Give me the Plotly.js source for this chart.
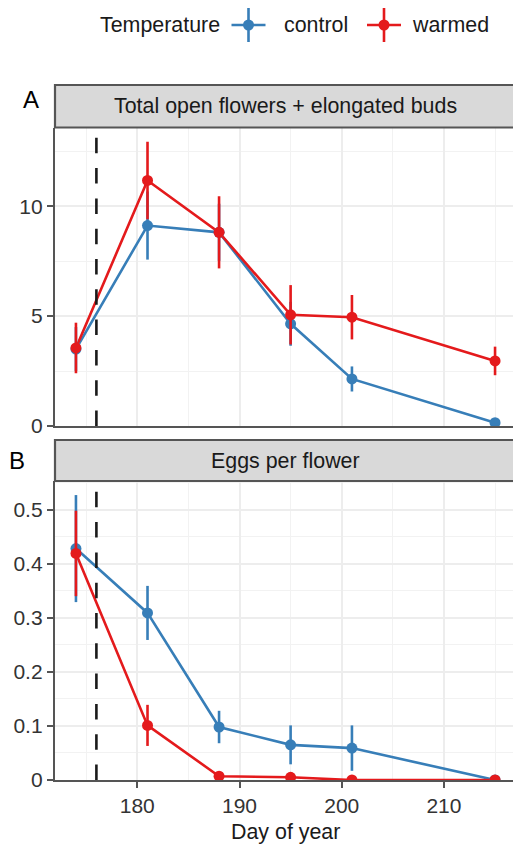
<!DOCTYPE html>
<html>
<head>
<meta charset="utf-8">
<script src="https://cdn.plot.ly/plotly-3.0.1.min.js"></script>
<style>
html,body{margin:0;padding:0;overflow:hidden;background:#fff;}
#chart{width:516px;height:845px;}
</style>
</head>
<body>
<div id="chart"></div>
<script>
// ---- data ----
const days = [174, 181, 188, 195, 201, 215];
const flowersControl = [3.5, 9.12, 8.81, 4.65, 2.14, 0.15];
const flowersControlErr = [1.0, 1.55, 1.3, 1.0, 0.57, 0.1];
const flowersWarmed = [3.55, 11.17, 8.81, 5.06, 4.95, 2.96];
const flowersWarmedErr = [1.15, 1.76, 1.64, 1.35, 1.01, 0.65];
const eggsControl = [0.428, 0.309, 0.098, 0.065, 0.059, 0.0];
const eggsControlErr = [0.099, 0.05, 0.03, 0.036, 0.042, 0.0];
const eggsWarmed = [0.419, 0.101, 0.007, 0.005, 0.0, 0.0];
const eggsWarmedErr = [0.079, 0.038, 0.003, 0.003, 0.0, 0.0];
const groups = ["control", "warmed"];
const panelTitles = ["Total open flowers + elongated buds", "Eggs per flower"];
const panelLetters = ["A", "B"];
const warmingStartDay = 176;
const xTitle = "Day of year";
const legendTitle = "Temperature";

const colors = {control: "#377EB8", warmed: "#E41A1C"};
const W = 516, H = 845, L = 55, PW = W - L;
const px = v => (v - L) / PW;
const py = v => 1 - v / H;

function lineTrace(x, y, g, xa, ya) {
  return {x: x, y: y, type: "scatter", mode: "lines", xaxis: xa, yaxis: ya,
    line: {color: colors[g], width: 2.6}, showlegend: false, hoverinfo: "skip"};
}
function ptTrace(x, y, e, g, xa, ya) {
  return {x: x, y: y, type: "scatter", mode: "markers", xaxis: xa, yaxis: ya,
    marker: {color: colors[g], size: 11},
    error_y: {type: "data", array: e, symmetric: true, color: colors[g], thickness: 2.6, width: 0},
    showlegend: false, name: g};
}

const data = [
  lineTrace(days, flowersControl, "control", "x", "y"),
  lineTrace(days, flowersWarmed, "warmed", "x", "y"),
  ptTrace(days, flowersControl, flowersControlErr, "control", "x", "y"),
  ptTrace(days, flowersWarmed, flowersWarmedErr, "warmed", "x", "y"),
  lineTrace(days, eggsControl, "control", "x2", "y2"),
  lineTrace(days, eggsWarmed, "warmed", "x2", "y2"),
  ptTrace(days, eggsControl, eggsControlErr, "control", "x2", "y2"),
  ptTrace(days, eggsWarmed, eggsWarmedErr, "warmed", "x2", "y2")
];

const axisLine = "#555555";
const gridMajor = "#EDEDED";
const gridMinor = "#F2F2F2";
const tickFont = {size: 21, color: "#333333"};

function xAxis(anchor, labels) {
  return {domain: [0, 1], anchor: anchor, range: [171.95, 217.05], tick0: 180, dtick: 10,
    showticklabels: labels, ticks: labels ? "outside" : "", ticklen: 6, tickwidth: 2, tickcolor: axisLine,
    tickfont: tickFont, showline: true, linecolor: axisLine, linewidth: 2.2,
    showgrid: true, gridcolor: gridMajor, gridwidth: 2, zeroline: false,
    minor: {dtick: 5, tick0: 175, showgrid: true, gridcolor: gridMinor, gridwidth: 1}};
}
function yAxis(anchor, domain, range, dtick) {
  return {domain: domain, anchor: anchor, range: range, tick0: 0, dtick: dtick,
    ticks: "outside", ticklen: 6, tickwidth: 2, tickcolor: axisLine, tickfont: tickFont,
    showline: true, linecolor: axisLine, linewidth: 2.2,
    showgrid: true, gridcolor: gridMajor, gridwidth: 2, zeroline: false,
    minor: {dtick: dtick / 2, showgrid: true, gridcolor: gridMinor, gridwidth: 1}};
}

const stripA = [85, 127.5], stripB = [440, 481];
const dashStyle = {color: "#1a1a1a", width: 2.6, dash: "15.5px,14.8px"};
const shapes = [
  {type: "rect", xref: "paper", yref: "paper", x0: 0, x1: 1.05, y0: py(stripA[1]), y1: py(stripA[0]),
    fillcolor: "#D9D9D9", line: {color: axisLine, width: 2.2}, layer: "above"},
  {type: "rect", xref: "paper", yref: "paper", x0: 0, x1: 1.05, y0: py(stripB[1]), y1: py(stripB[0]),
    fillcolor: "#D9D9D9", line: {color: axisLine, width: 2.2}, layer: "above"},
  {type: "line", xref: "x", yref: "y domain", x0: warmingStartDay, x1: warmingStartDay, y0: 0, y1: 1,
    line: dashStyle, layer: "above"},
  {type: "line", xref: "x2", yref: "y2 domain", x0: warmingStartDay, x1: warmingStartDay, y0: 0, y1: 1,
    line: dashStyle, layer: "above"}
];

// legend key glyphs
const legendKeys = [{g: "control", cx: 248.5, tx: 282}, {g: "warmed", cx: 384, tx: 410}];
const legY = 25;
legendKeys.forEach(k => {
  const c = colors[k.g];
  shapes.push({type: "line", xref: "paper", yref: "paper", x0: px(k.cx - 17), x1: px(k.cx + 17), y0: py(legY), y1: py(legY), line: {color: c, width: 2.6}});
  shapes.push({type: "line", xref: "paper", yref: "paper", x0: px(k.cx), x1: px(k.cx), y0: py(legY - 17), y1: py(legY + 17), line: {color: c, width: 2.6}});
  shapes.push({type: "circle", xref: "paper", yref: "paper", x0: px(k.cx - 5.5), x1: px(k.cx + 5.5), y0: py(legY + 5.5), y1: py(legY - 5.5), fillcolor: c, line: {color: c, width: 0}});
});

const txt = {size: 21.4, color: "#1a1a1a"};
const annotations = [
  {text: panelTitles[0], xref: "paper", yref: "paper", x: 0.5, y: py((stripA[0] + stripA[1]) / 2), showarrow: false, font: txt, xanchor: "center", yanchor: "middle"},
  {text: panelTitles[1], xref: "paper", yref: "paper", x: 0.5, y: py((stripB[0] + stripB[1]) / 2), showarrow: false, font: txt, xanchor: "center", yanchor: "middle"},
  {text: panelLetters[0], xref: "paper", yref: "paper", x: px(30.5), y: py(100), showarrow: false, font: {size: 24, color: "#000"}, xanchor: "center", yanchor: "middle"},
  {text: panelLetters[1], xref: "paper", yref: "paper", x: px(16.5), y: py(460.5), showarrow: false, font: {size: 24, color: "#000"}, xanchor: "center", yanchor: "middle"},
  {text: xTitle, xref: "paper", yref: "paper", x: 0.5, y: py(832), showarrow: false, font: txt, xanchor: "center", yanchor: "middle"},
  {text: legendTitle, xref: "paper", yref: "paper", x: px(222), y: py(legY), showarrow: false, font: txt, xanchor: "right", yanchor: "middle"}
];
legendKeys.forEach(k => annotations.push({text: k.g, xref: "paper", yref: "paper", x: px(k.tx), y: py(legY), showarrow: false, font: txt, xanchor: "left", yanchor: "middle"}));

const layout = {
  width: W, height: H,
  margin: {l: L, r: 0, t: 0, b: 0, pad: 0},
  paper_bgcolor: "#ffffff", plot_bgcolor: "#ffffff",
  font: {family: "Liberation Sans, Arial, Helvetica, sans-serif", size: 21, color: "#1a1a1a"},
  showlegend: false,
  xaxis: xAxis("y", false),
  yaxis: yAxis("x", [py(426), py(stripA[1])], [0, 13.58], 5),
  xaxis2: xAxis("y2", true),
  yaxis2: yAxis("x2", [py(780), py(stripB[1])], [0, 0.553], 0.1),
  shapes: shapes,
  annotations: annotations
};

Plotly.newPlot("chart", data, layout, {staticPlot: true, displayModeBar: false});
</script>
</body>
</html>
